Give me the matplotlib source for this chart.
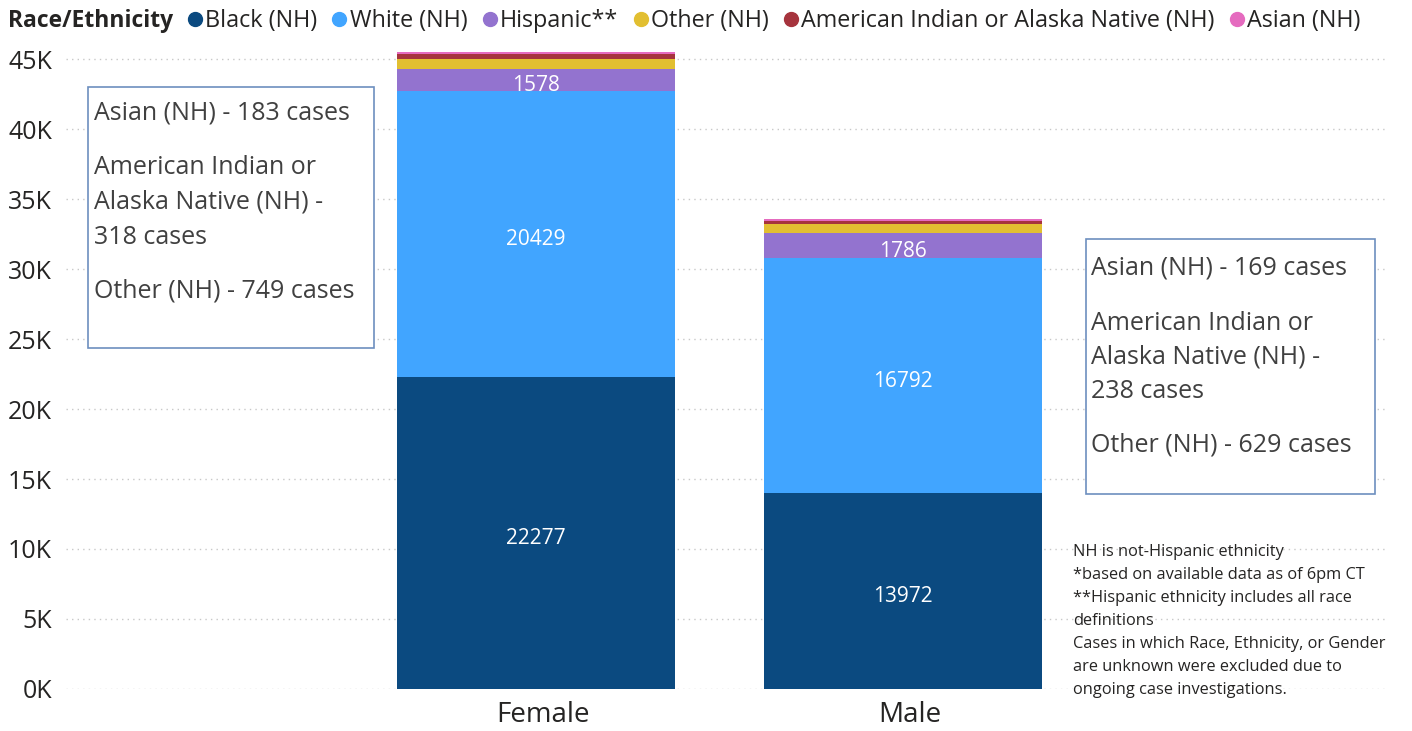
import matplotlib
matplotlib.use("Agg")
import matplotlib.pyplot as plt
import matplotlib.transforms as mtransforms
from matplotlib.patches import Rectangle
from matplotlib.lines import Line2D
import numpy as np

plt.rcParams['font.family'] = ['Open Sans', 'DejaVu Sans']

categories = ["Female", "Male"]
series_names = ["Black (NH)", "White (NH)", "Hispanic**", "Other (NH)",
                "American Indian or Alaska Native (NH)", "Asian (NH)"]
black = [22277, 13972]
white = [20429, 16792]
hispanic = [1578, 1786]
other = [749, 629]
aian = [318, 238]
asian = [183, 169]
series_values = [black, white, hispanic, other, aian, asian]
colors = ["#0b4a80", "#41a5ff", "#9373cf", "#e2bf31", "#a6343d", "#e56bbf"]
labeled = [True, True, True, False, False, False]
yticks = [0, 5000, 10000, 15000, 20000, 25000, 30000, 35000, 40000, 45000]
ytick_labels = ["0K", "5K", "10K", "15K", "20K", "25K", "30K", "35K", "40K", "45K"]

left_box_lines = ["Asian (NH) - 183 cases", "American Indian or", "Alaska Native (NH) -",
                  "318 cases", "Other (NH) - 749 cases"]
right_box_lines = ["Asian (NH) - 169 cases", "American Indian or", "Alaska Native (NH) -",
                   "238 cases", "Other (NH) - 629 cases"]
footnote_lines = ["NH is not-Hispanic ethnicity", "*based on available data as of 6pm CT",
                  "**Hispanic ethnicity includes all race", "definitions",
                  "Cases in which Race, Ethnicity, or Gender", "are unknown were excluded due to",
                  "ongoing case investigations."]

W, H = 1412, 731
fig = plt.figure(figsize=(W / 100, H / 100), dpi=100)

def fx(px):
    return px / W

def fy(py):
    return 1 - py / H

ax_left, ax_right, ax_bottom, ax_top = 66, 1385, 689, 38
ax = fig.add_axes([fx(ax_left), fy(ax_bottom), fx(ax_right - ax_left), (ax_bottom - ax_top) / H])

x = np.arange(len(categories))
bar_w = 278 / 367
bottom = np.zeros(len(categories))
for name, vals, col, lab in zip(series_names, series_values, colors, labeled):
    ax.bar(x, vals, bar_w, bottom=bottom, color=col, label=name, zorder=3)
    if lab:
        for xi, b, v in zip(x, bottom, vals):
            ax.annotate(str(v), (xi, b + v / 2), xytext=(0, -4), textcoords='offset points',
                        ha='center', va='center', color='white', fontsize=15, zorder=4)
    bottom += np.array(vals)

ax.set_xlim((ax_left - 536) / 367, (ax_right - 536) / 367)
ax.set_ylim(0, 45000 * (ax_bottom - ax_top) / (ax_bottom - 59))
ax.set_yticks(yticks)
ax.set_yticklabels(ytick_labels, fontsize=18, color="#252423")
ax.set_xticks(x)
ax.set_xticklabels(categories, fontsize=20, color="#252423")
ax.tick_params(axis='both', length=0)
ax.tick_params(axis='y', pad=10)
ax.tick_params(axis='x', pad=9)
offset = mtransforms.ScaledTranslation(7 / 100, 0, fig.dpi_scale_trans)
for lbl in ax.get_xticklabels():
    lbl.set_transform(lbl.get_transform() + offset)
ax.grid(axis='y', color="#c8c8c8", linestyle=(0, (1, 3)), linewidth=1, zorder=0)
for s in ax.spines.values():
    s.set_visible(False)

# Legend
fig.text(fx(8), fy(21), "Race/Ethnicity", fontsize=16.5, fontweight='bold',
         color="#252423", va='center', ha='left')
handles = [Line2D([0], [0], marker='o', linestyle='', markersize=10,
                  markerfacecolor=c, markeredgecolor=c) for c in colors]
fig.legend(handles, series_names, loc='center left', bbox_to_anchor=(fx(184), fy(21)),
           ncol=6, frameon=False, fontsize=16.8, handletextpad=0.0, columnspacing=0.5,
           handlelength=0.9, borderpad=0, borderaxespad=0, labelcolor="#252423")

# Text boxes
def draw_box(x0, y0, x1, y1, lines, ys, tx):
    fig.patches.append(Rectangle((fx(x0), fy(y1)), fx(x1 - x0), (y1 - y0) / H,
                                 transform=fig.transFigure, fill=True, facecolor='white',
                                 edgecolor="#6d8fbf", linewidth=1.2, zorder=5))
    for line, yy in zip(lines, ys):
        fig.text(fx(tx), fy(yy + 3), line, fontsize=18, color="#404040", va='center',
                 ha='left', zorder=6)

draw_box(88, 87, 374, 348, left_box_lines, [110, 165, 199, 234, 288], 94)
draw_box(1086, 239, 1375, 494, right_box_lines, [265, 320, 354, 389, 442], 1091)

for i, line in enumerate(footnote_lines):
    fig.text(fx(1073), fy(552 + i * 23), line, fontsize=11.8, color="#252423",
             va='center', ha='left')

fig.savefig("out.png", dpi=100)
